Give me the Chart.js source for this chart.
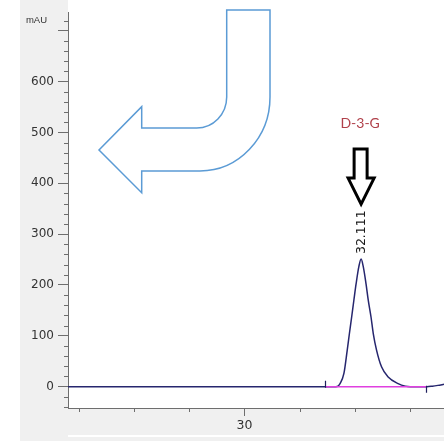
<!DOCTYPE html>
<html>
<head>
<meta charset="utf-8">
<script src="https://cdn.jsdelivr.net/npm/chart.js@4.4.0/dist/chart.umd.min.js"></script>
<style>
  html, body { margin: 0; padding: 0; background: #ffffff; }
  #wrap { width: 444px; height: 441px; }
</style>
</head>
<body>
<div id="wrap"><canvas id="c" width="444" height="441"></canvas></div>
<script>
// ---- data ----
const retentionTime = [26.81, 31.00, 31.60, 31.68, 31.73, 31.80, 31.86, 31.90, 31.94, 31.98, 32.02, 32.07, 32.111, 32.15, 32.20, 32.24, 32.29, 32.33, 32.39, 32.48, 32.60, 32.78, 32.91, 33.00, 33.30, 33.40, 33.50, 33.61];
const signalMAU     = [0,     0,     0,     0.5,   6,     26,    72,    105,   137,   170,   202,   236,   251,    236,   202,   170,   137,   105,   72,    39,    19,    6,     1,     0,     0,     1,     2.5,   4.5];
const baselineTime  = [31.46, 33.29];   // integration baseline start / end
const baselineMAU   = [0, 0];
const peakRT        = 32.111;
const peakHeight    = 251;
const peakLabel     = "32.111";
const compoundName  = "D-3-G";
const xTickValues   = [27, 28, 29, 30, 31, 32, 33];
const xTickLabels   = { 30: "30" };
const yTickValues   = [-40, -20, 0, 20, 40, 60, 80, 100, 120, 140, 160, 180, 200, 220, 240, 260, 280, 300, 320, 340, 360, 380, 400, 420, 440, 460, 480, 500, 520, 540, 560, 580, 600, 620, 640, 660, 680, 700, 720];
const yLabelValues  = [0, 100, 200, 300, 400, 500, 600];
const yUnit         = "mAU";

const AXIS = '#6e6e6e';
const TXT = '#333333';

const bgPlugin = {
  id: 'bg',
  beforeDraw(chart) {
    const ctx = chart.ctx, W = chart.width, H = chart.height, a = chart.chartArea;
    ctx.save();
    ctx.fillStyle = '#ffffff';
    ctx.fillRect(0, 0, W, H);
    ctx.fillStyle = '#f0f0f0';
    ctx.fillRect(20, 0, a.left - 20, H);
    ctx.fillRect(20, a.bottom, W - 20, 27);
    ctx.fillRect(20, a.bottom + 29, W - 20, H - a.bottom - 29);
    ctx.restore();
  }
};

const decoPlugin = {
  id: 'deco',
  afterDraw(chart) {
    const ctx = chart.ctx, xs = chart.scales.x, ys = chart.scales.y, a = chart.chartArea;
    ctx.save();
    // minor ticks
    ctx.strokeStyle = AXIS; ctx.lineWidth = 1;
    ctx.beginPath();
    yTickValues.forEach(v => {
      if (v % 100 !== 0) {
        const y = Math.round(ys.getPixelForValue(v)) + 0.5;
        ctx.moveTo(a.left - 4, y); ctx.lineTo(a.left, y);
      }
    });
    xTickValues.forEach(v => {
      if (!(v in xTickLabels)) {
        const x = Math.round(xs.getPixelForValue(v)) + 0.5;
        ctx.moveTo(x, a.bottom); ctx.lineTo(x, a.bottom + 4);
      }
    });
    ctx.stroke();

    // unit label
    ctx.fillStyle = TXT;
    ctx.font = '9.5px "Liberation Sans", Arial, sans-serif';
    ctx.textAlign = 'right'; ctx.textBaseline = 'middle';
    ctx.fillText(yUnit, a.left - 21, ys.getPixelForValue(720));

    // integration start/end markers
    const y0 = ys.getPixelForValue(0);
    ctx.strokeStyle = '#1f1f5e'; ctx.lineWidth = 1.2;
    ctx.beginPath();
    let xsP = Math.round(xs.getPixelForValue(baselineTime[0])) + 0.5;
    ctx.moveTo(xsP, y0 - 6); ctx.lineTo(xsP, y0 + 1);
    let xeP = Math.round(xs.getPixelForValue(baselineTime[1])) + 0.5;
    ctx.moveTo(xeP, y0 - 1); ctx.lineTo(xeP, y0 + 6);
    ctx.stroke();

    // retention time label (vertical)
    const px = xs.getPixelForValue(peakRT);
    const py = ys.getPixelForValue(peakHeight);
    ctx.save();
    ctx.translate(px + 0.5, py - 5);
    ctx.rotate(-Math.PI / 2);
    ctx.fillStyle = '#1a1a1a';
    ctx.font = '12.5px "DejaVu Sans", sans-serif';
    ctx.textAlign = 'left'; ctx.textBaseline = 'middle';
    ctx.fillText(peakLabel, 0, 0);
    ctx.restore();

    // black down arrow
    const tipY = py - 55;
    ctx.beginPath();
    ctx.moveTo(px - 7, tipY - 55);
    ctx.lineTo(px + 6, tipY - 55);
    ctx.lineTo(px + 6, tipY - 26);
    ctx.lineTo(px + 13, tipY - 26);
    ctx.lineTo(px, tipY);
    ctx.lineTo(px - 13, tipY - 26);
    ctx.lineTo(px - 7, tipY - 26);
    ctx.closePath();
    ctx.fillStyle = '#ffffff'; ctx.fill();
    ctx.strokeStyle = '#000000'; ctx.lineWidth = 3; ctx.lineJoin = 'miter';
    ctx.stroke();

    // compound name
    ctx.fillStyle = '#b0404a';
    ctx.font = '14px Lato, "Open Sans", sans-serif';
    ctx.textAlign = 'center'; ctx.textBaseline = 'middle';
    ctx.fillText(compoundName, px - 1, 123.5);

    // blue bent arrow (overlay graphic)
    const k = 0.552;
    ctx.beginPath();
    ctx.moveTo(226.7, 10);
    ctx.lineTo(270, 10);
    ctx.lineTo(270, 97);
    ctx.bezierCurveTo(270, 97 + 74 * k, 200 + 70 * k, 171, 200, 171);
    ctx.lineTo(141.7, 171);
    ctx.lineTo(141.7, 192.7);
    ctx.lineTo(99, 150);
    ctx.lineTo(141.7, 106.7);
    ctx.lineTo(141.7, 128);
    ctx.lineTo(196.7, 128);
    ctx.bezierCurveTo(196.7 + 30 * k, 128, 226.7, 97 + 31 * k, 226.7, 97);
    ctx.closePath();
    ctx.strokeStyle = '#5b9bd5'; ctx.lineWidth = 1.5; ctx.lineJoin = 'miter';
    ctx.stroke();
    ctx.restore();
  }
};

new Chart(document.getElementById('c'), {
  type: 'line',
  data: {
    datasets: [
      {
        label: 'baseline',
        data: baselineTime.map((t, i) => ({ x: t, y: baselineMAU[i] })),
        borderColor: '#e040e0',
        borderWidth: 1.5,
        pointRadius: 0,
        tension: 0
      },
      {
        label: 'signal',
        data: retentionTime.map((t, i) => ({ x: t, y: signalMAU[i] })),
        borderColor: '#26266e',
        borderWidth: 1.5,
        pointRadius: 0,
        cubicInterpolationMode: 'monotone'
      }
    ]
  },
  options: {
    responsive: false,
    devicePixelRatio: 1,
    animation: false,
    layout: { padding: { top: 12, left: 0, right: 0, bottom: 0 } },
    plugins: { legend: { display: false }, tooltip: { enabled: false } },
    scales: {
      x: {
        type: 'linear',
        min: 26.81, max: 33.61,
        afterBuildTicks: s => { s.ticks = xTickValues.map(v => ({ value: v })); },
        afterFit: s => { s.height = 33; s.paddingLeft = 0; s.paddingRight = 0; },
        border: { display: true, color: AXIS, width: 1 },
        grid: {
          drawOnChartArea: false, drawTicks: true, tickLength: 8,
          tickColor: c => (c.tick && (c.tick.value in xTickLabels)) ? AXIS : 'rgba(0,0,0,0)'
        },
        ticks: {
          autoSkip: false, maxRotation: 0, padding: 2,
          color: TXT, font: { family: '"DejaVu Sans", sans-serif', size: 12.5 },
          callback: v => xTickLabels[v] || ''
        }
      },
      y: {
        type: 'linear',
        min: -42, max: 737,
        afterBuildTicks: s => { s.ticks = yTickValues.map(v => ({ value: v })); },
        afterFit: s => { s.width = 68; s.paddingTop = 0; s.paddingBottom = 0; },
        border: { display: true, color: AXIS, width: 1 },
        grid: {
          drawOnChartArea: false, drawTicks: true, tickLength: 10,
          tickColor: c => (c.tick && c.tick.value % 100 === 0) ? AXIS : 'rgba(0,0,0,0)'
        },
        ticks: {
          autoSkip: false, padding: 4,
          color: TXT, font: { family: '"DejaVu Sans", sans-serif', size: 12 },
          callback: v => yLabelValues.includes(v) ? String(v) : ''
        }
      }
    }
  },
  plugins: [bgPlugin, decoPlugin]
});
</script>
</body>
</html>
